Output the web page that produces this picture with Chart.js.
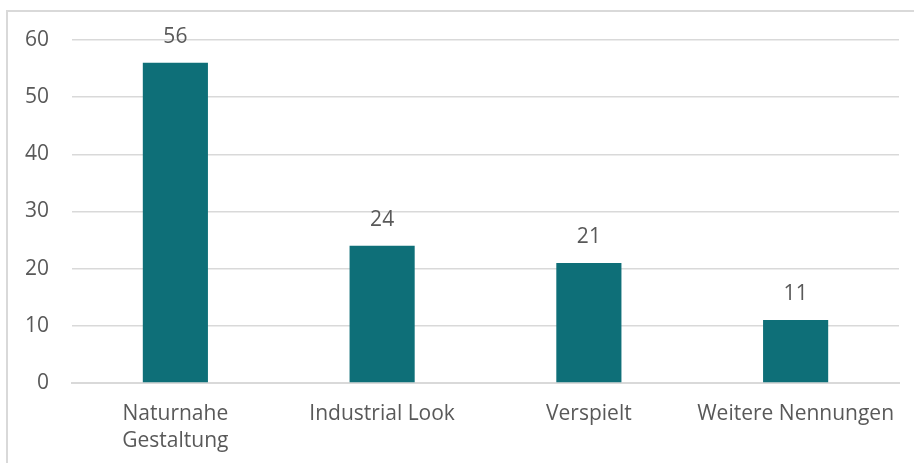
<!DOCTYPE html>
<html lang="de">
<head>
<meta charset="UTF-8">
<title>Gestaltung</title>
<script src="https://cdn.jsdelivr.net/npm/chart.js"></script>
<style>
  * { box-sizing: border-box; margin: 0; padding: 0; }
  body { background: #fff; width: 914px; height: 463px; overflow: hidden; position: relative; }
  .frame {
    position: absolute; left: 6px; top: 10px; width: 920px; height: 470px;
    border: 2px solid #d9d9d9; pointer-events: none;
  }
  canvas { position: absolute; left: 0; top: 0; }
</style>
</head>
<body>
<canvas id="chart" width="914" height="463"></canvas>
<div class="frame"></div>
<script>
  const categories = [['Naturnahe', 'Gestaltung'], 'Industrial Look', 'Verspielt', 'Weitere Nennungen'];
  const values = [56, 24, 21, 11];
  const yTicks = [0, 10, 20, 30, 40, 50, 60];

  const TEXT = '#595959';
  const FONT = "'Open Sans', 'Noto Sans', sans-serif";
  const SIZE = 21;

  // value labels above the bars
  const valueLabels = {
    id: 'valueLabels',
    afterDatasetsDraw(chart) {
      const ctx = chart.ctx;
      const meta = chart.getDatasetMeta(0);
      ctx.save();
      ctx.fillStyle = TEXT;
      ctx.font = SIZE + 'px ' + FONT;
      ctx.textAlign = 'center';
      ctx.textBaseline = 'middle';
      meta.data.forEach((bar, i) => {
        ctx.fillText(String(values[i]), bar.x, bar.y - 26);
      });
      ctx.restore();
    }
  };

  new Chart(document.getElementById('chart'), {
    type: 'bar',
    data: {
      labels: categories,
      datasets: [{
        data: values,
        backgroundColor: '#0e6f78',
        barPercentage: 0.315,
        categoryPercentage: 1
      }]
    },
    options: {
      responsive: false,
      animation: false,
      layout: { padding: { left: 0, top: 40, right: 15, bottom: 0 } },
      plugins: { legend: { display: false }, tooltip: { enabled: false } },
      scales: {
        x: {
          grid: { display: false, drawTicks: false },
          border: { display: true, color: '#d9d9d9', width: 2 },
          ticks: { color: TEXT, font: { family: FONT, size: SIZE, lineHeight: 1.3 }, padding: 17, maxRotation: 0, autoSkip: false },
          afterFit(scale) { scale.height = 80; }
        },
        y: {
          min: 0, max: 60,
          afterBuildTicks(scale) { scale.ticks = yTicks.map(v => ({ value: v })); },
          grid: { color: '#d9d9d9', lineWidth: 1.5, drawTicks: false },
          border: { display: false },
          ticks: { color: TEXT, font: { family: FONT, size: SIZE }, padding: 23 },
          afterFit(scale) { scale.width = 72; }
        }
      }
    },
    plugins: [valueLabels]
  });
</script>
</body>
</html>
